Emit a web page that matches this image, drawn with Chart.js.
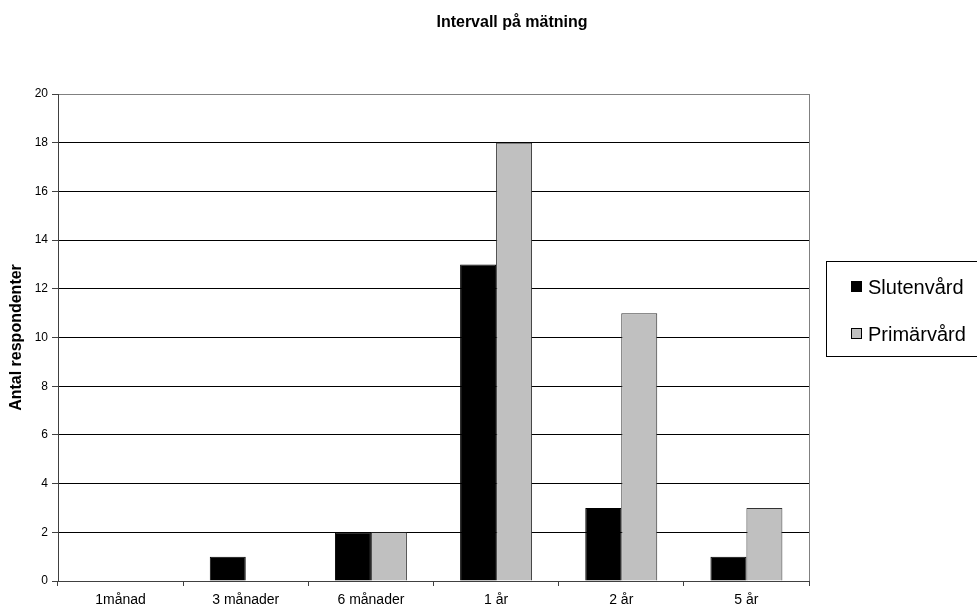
<!DOCTYPE html>
<html>
<head>
<meta charset="utf-8">
<script src="https://cdn.jsdelivr.net/npm/chart.js@4.4.0/dist/chart.umd.min.js"></script>
<style>
    html, body { margin: 0; padding: 0; background: #fff; }
    #wrap { width: 977px; height: 612px; }
</style>
</head>
<body>
<div id="wrap"><canvas id="chart" width="977" height="612"></canvas></div>
<script>
// Data
const categories = ["1månad", "3 månader", "6 månader", "1 år", "2 år", "5 år"];
const slutenvard = [0, 1, 2, 13, 3, 1];
const primarvard = [0, 0, 2, 18, 11, 3];
const seriesNames = ["Slutenvård", "Primärvård"];
const chartTitle = "Intervall på mätning";
const yTitle = "Antal respondenter";

const FONT = "Arial, 'Liberation Sans', sans-serif";

// Title, right frame line and boxed legend
const extrasPlugin = {
    id: "extras",
    afterDraw(chart) {
        const ctx = chart.ctx;
        const area = chart.chartArea;
        ctx.save();

        // frame on the right side of the plot
        ctx.strokeStyle = "#808080";
        ctx.lineWidth = 1;
        ctx.beginPath();
        ctx.moveTo(Math.round(area.right) + 0.5, area.top);
        ctx.lineTo(Math.round(area.right) + 0.5, area.bottom);
        ctx.stroke();

        // title
        ctx.fillStyle = "#000";
        ctx.font = "bold 16px " + FONT;
        ctx.textAlign = "center";
        ctx.textBaseline = "middle";
        ctx.fillText(chartTitle, 512, 23);

        // legend box
        ctx.strokeStyle = "#000";
        ctx.strokeRect(826.5, 261.5, 160, 95);
        ctx.font = "20px " + FONT;
        ctx.textAlign = "left";
        chart.data.datasets.forEach((ds, i) => {
            const y = 287 + i * 47;
            ctx.fillStyle = ds.backgroundColor;
            ctx.fillRect(851, y - 6, 11, 11);
            ctx.strokeStyle = "#000";
            ctx.strokeRect(851.5, y - 5.5, 10, 10);
            ctx.fillStyle = "#000";
            ctx.fillText(ds.label, 868, y + 1);
        });
        ctx.restore();
    }
};

const ctx = document.getElementById("chart").getContext("2d");
new Chart(ctx, {
    type: "bar",
    data: {
        labels: categories,
        datasets: [
            {
                label: seriesNames[0],
                data: slutenvard,
                backgroundColor: "#000000",
                borderColor: "#000000",
                borderWidth: 1
            },
            {
                label: seriesNames[1],
                data: primarvard,
                backgroundColor: "#c0c0c0",
                borderColor: "#333333",
                borderWidth: 1
            }
        ]
    },
    options: {
        responsive: false,
        animation: false,
        layout: {
            padding: { left: 7, top: 94, right: 168, bottom: 0 }
        },
        categoryPercentage: 0.575,
        barPercentage: 1.0,
        plugins: {
            legend: { display: false },
            title: { display: false },
            tooltip: { enabled: false }
        },
        scales: {
            x: {
                grid: {
                    offset: true,
                    drawOnChartArea: false,
                    drawTicks: true,
                    tickLength: 5,
                    tickColor: "#404040"
                },
                border: { color: "#404040", width: 1 },
                ticks: {
                    color: "#000",
                    font: { family: FONT, size: 14 },
                    padding: 6,
                    maxRotation: 0
                },
                afterFit(scale) { scale.height = 31; }
            },
            y: {
                min: 0,
                max: 20,
                ticks: {
                    stepSize: 2,
                    color: "#000",
                    font: { family: FONT, size: 12 },
                    padding: 4
                },
                grid: {
                    color: c => (c.tick && c.tick.value === 20 ? "#808080" : "#000000"),
                    lineWidth: 1,
                    tickLength: 6,
                    tickColor: "#404040"
                },
                border: { color: "#404040", width: 1 },
                title: {
                    display: true,
                    text: yTitle,
                    color: "#000",
                    font: { family: FONT, size: 16, weight: "bold" },
                    padding: { top: 0, bottom: 0 }
                },
                afterFit(scale) { scale.width = 51; }
            }
        }
    },
    plugins: [extrasPlugin]
});
</script>
</body>
</html>
